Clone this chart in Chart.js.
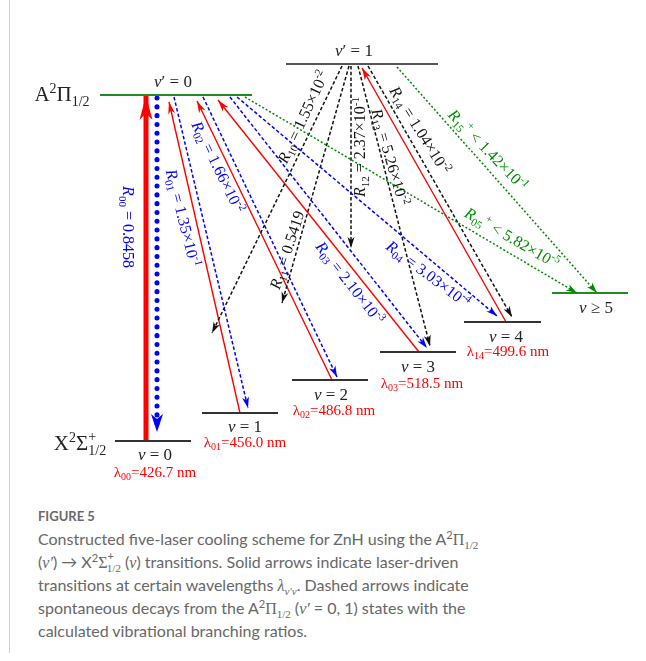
<!DOCTYPE html>
<html>
<head>
<meta charset="utf-8">
<script src="https://cdn.jsdelivr.net/npm/chart.js@4.4.0/dist/chart.umd.min.js"></script>
<style>
html, body { margin: 0; padding: 0; background: #fff; }
#wrap { position: absolute; left: 0; top: 0; width: 646px; height: 495px; }
#edge { position: absolute; left: 9px; top: 0; width: 1px; height: 653px; background: #cfcfcf; }
.cap { position: absolute; left: 38px; top: 505px; width: 600px; font-family: Lato, sans-serif; color: #676767; }
.fig { font-size: 13px; font-weight: 700; height: 22px; line-height: 22px; color: #6a6a6a; }
.txt { font-size: 16px; font-weight: 400; }
.txt div { height: 23px; line-height: 23px; white-space: nowrap; }
.txt sub, .txt sup { font-size: 11px; line-height: 0; }
.m { font-family: "Liberation Serif", serif; font-style: italic; }
.g { font-family: "Liberation Serif", serif; }
</style>
</head>
<body>
<div id="edge"></div>
<div id="wrap"><canvas id="scheme"></canvas></div>
<div class="cap">
  <div class="fig">FIGURE 5</div>
  <div class="txt">
    <div>Constructed five-laser cooling scheme for ZnH using the A<sup>2</sup><span class="g">Π</span><sub class="g">1/2</sub></div>
    <div>(<span class="m">ν′</span>) → X<sup>2</sup><span class="g">Σ</span><sup style="position:relative;top:-2px">+</sup><sub class="g" style="margin-left:-7px">1/2</sub> (<span class="m">ν</span>) transitions. Solid arrows indicate laser-driven</div>
    <div>transitions at certain wavelengths <span class="m">λ</span><sub class="m">ν′ν</sub>. Dashed arrows indicate</div>
    <div>spontaneous decays from the A<sup>2</sup><span class="g">Π</span><sub class="g">1/2</sub> (<span class="m">ν′</span> = 0, 1) states with the</div>
    <div>calculated vibrational branching ratios.</div>
  </div>
</div>
<script>
// energy levels (diagram units: x across, y = height on the page scale)
const levelNames = ["v'=0", "v'=1", "v=0", "v=1", "v=2", "v=3", "v=4", "v>=5"];
const levelFrom = [100, 286, 115, 202, 292, 380, 464, 552];
const levelTo = [252, 438, 191, 278, 368, 456, 541, 628];
const levelEnergy = [95, 64, 441, 413, 380, 352, 322, 293];

// laser driven transitions (lower -> upper)
const laserNames = ["λ00", "λ01", "λ02", "λ03", "λ14"];
const laserX0 = [146, 240, 332, 419, 506];
const laserY0 = [441, 413, 380, 352, 322];
const laserX1 = [146, 169, 197, 218, 362];
const laserY1 = [96, 102, 101, 100, 68];

// spontaneous decays (upper -> lower)
const decayNames = ["R00", "R01", "R02", "R03", "R04", "R05", "R10", "R11", "R12", "R13", "R14", "R15"];
const decayX0 = [157, 174, 203, 230, 237, 245, 342, 349, 351, 358, 368, 397];
const decayY0 = [98, 97, 97, 97, 97, 97, 66, 66, 66, 66, 66, 67];
const decayX1 = [157, 248, 337, 427, 497, 577, 212, 282, 351, 430, 512, 597];
const decayY1 = [432, 408, 377, 348, 316, 293, 333, 303, 248, 346, 317, 293];

const RED = "#ff0000", BLUE = "#0000ff", GREEN = "#008a00", BLK = "#111";

const levelColor = ["#1e8c1e", "#555", "#333", "#333", "#333", "#333", "#333", "#1e8c1e"];
const decayColor = [BLUE, BLUE, BLUE, BLUE, BLUE, GREEN, BLK, BLK, BLK, BLK, BLK, GREEN];

const datasets = [];
levelNames.forEach((n, i) => {
  datasets.push({
    label: n,
    data: [{ x: levelFrom[i], y: levelEnergy[i] }, { x: levelTo[i], y: levelEnergy[i] }],
    borderColor: levelColor[i],
    borderWidth: 2
  });
});
decayNames.forEach((n, i) => {
  const c = decayColor[i];
  const big = i === 0;
  datasets.push({
    label: n,
    data: [{ x: decayX0[i], y: decayY0[i] }, { x: decayX1[i], y: decayY1[i] }],
    borderColor: c,
    borderWidth: big ? 5 : 1.5,
    borderDash: big ? [0.1, 8.7] : (c === GREEN ? [2, 2] : [3.5, 2.2]),
    borderCapStyle: big ? "round" : "butt",
    head: big ? { len: 18, wid: 12 } : { len: 11, wid: 7 }
  });
});
laserNames.forEach((n, i) => {
  const big = i === 0;
  datasets.push({
    label: n,
    data: [{ x: laserX0[i], y: laserY0[i] }, { x: laserX1[i], y: laserY1[i] }],
    borderColor: RED,
    borderWidth: big ? 5 : 1.4,
    head: big ? { len: 24, wid: 13 } : { len: 12, wid: 7 }
  });
});

// text labels: markup *italic*, _{sub}, ^{sup}, #{sup|sub} stacked
const labels = [
  { t: "A^{2}Π_{1/2}", x: 62, y: 94, r: 0, s: 21, c: "#222" },
  { t: "X^{2}Σ#{+|1/2}", x: 80, y: 443, r: 0, s: 21, c: "#222" },
  { t: "*v*′ = 0", x: 173, y: 81, r: 0, s: 17, c: "#222" },
  { t: "*v*′ = 1", x: 354, y: 50, r: 0, s: 17, c: "#222" },
  { t: "*v* = 0", x: 155, y: 454, r: 0, s: 17, c: "#222" },
  { t: "*v* = 1", x: 245, y: 426, r: 0, s: 17, c: "#222" },
  { t: "*v* = 2", x: 331, y: 394, r: 0, s: 17, c: "#222" },
  { t: "*v* = 3", x: 418, y: 366, r: 0, s: 17, c: "#222" },
  { t: "*v* = 4", x: 506, y: 336, r: 0, s: 17, c: "#222" },
  { t: "*v* ≥ 5", x: 596, y: 307, r: 0, s: 17, c: "#222" },
  { t: "λ_{00}=426.7 nm", x: 155, y: 472, r: 0, s: 15, c: RED },
  { t: "λ_{01}=456.0 nm", x: 245, y: 442, r: 0, s: 15, c: RED },
  { t: "λ_{02}=486.8 nm", x: 334, y: 410, r: 0, s: 15, c: RED },
  { t: "λ_{03}=518.5 nm", x: 422, y: 383, r: 0, s: 15, c: RED },
  { t: "λ_{14}=499.6 nm", x: 508, y: 351, r: 0, s: 15, c: RED },
  { t: "*R*_{00} = 0.8458", x: 128, y: 227, r: 90, s: 16, c: BLUE },
  { t: "*R*_{01} = 1.35×10^{-1}", x: 183, y: 218, r: 76, s: 16, c: BLUE },
  { t: "*R*_{02} = 1.66×10^{-2}", x: 218, y: 167, r: 64, s: 16, c: BLUE },
  { t: "*R*_{03} = 2.10×10^{-3}", x: 350, y: 283, r: 52, s: 16, c: BLUE },
  { t: "*R*_{04} = 3.03×10^{-4}", x: 428, y: 274, r: 37, s: 16, c: BLUE },
  { t: "*R*_{05}^{+} < 5.82×10^{-5}", x: 512, y: 238, r: 30, s: 16, c: GREEN },
  { t: "*R*_{15}^{+} < 1.42×10^{-1}", x: 488, y: 150, r: 46, s: 16, c: GREEN },
  { t: "*R*_{10} = 1.55×10^{-2}", x: 303, y: 117, r: -65, s: 16, c: BLK },
  { t: "*R*_{11} = 0.5419", x: 287, y: 250, r: -72, s: 16, c: BLK },
  { t: "*R*_{12} = 2.37×10^{-1}", x: 360, y: 147, r: -90, s: 16, c: BLK },
  { t: "*R*_{13} = 5.26×10^{-2}", x: 390, y: 157, r: 74, s: 16, c: BLK },
  { t: "*R*_{14} = 1.04×10^{-2}", x: 420, y: 130, r: 58, s: 16, c: BLK }
];

function parse(t) {
  const out = [];
  const re = /\*([^*]+)\*|_\{([^}]*)\}|\^\{([^}]*)\}|#\{([^|]*)\|([^}]*)\}|([^*_^#]+)/g;
  let m;
  while ((m = re.exec(t))) {
    if (m[1]) out.push({ k: "i", t: m[1] });
    else if (m[0][0] === "_") out.push({ k: "sub", t: m[2] });
    else if (m[0][0] === "^") out.push({ k: "sup", t: m[3] });
    else if (m[0][0] === "#") out.push({ k: "stack", a: m[4], b: m[5] });
    else out.push({ k: "n", t: m[6] });
  }
  return out;
}

function fontFor(k, s) {
  const fam = '"Liberation Serif", serif';
  if (k === "i") return "italic " + s + "px " + fam;
  if (k === "sub" || k === "sup" || k === "stack") return Math.round(s * 0.68) + "px " + fam;
  return s + "px " + fam;
}

function drawRich(ctx, lb, px, py) {
  const segs = parse(lb.t);
  const s = lb.s;
  let w = 0;
  segs.forEach(g => {
    ctx.font = fontFor(g.k, s);
    g.w = g.k === "stack" ? Math.max(ctx.measureText(g.a).width, ctx.measureText(g.b).width) : ctx.measureText(g.t).width;
    w += g.w;
  });
  ctx.save();
  ctx.translate(px, py);
  ctx.rotate(lb.r * Math.PI / 180);
  ctx.fillStyle = lb.c;
  ctx.textBaseline = "alphabetic";
  let x = -w / 2;
  const base = s * 0.33;
  segs.forEach(g => {
    ctx.font = fontFor(g.k, s);
    if (g.k === "sub") ctx.fillText(g.t, x, base + s * 0.22);
    else if (g.k === "sup") ctx.fillText(g.t, x, base - s * 0.4);
    else if (g.k === "stack") {
      ctx.fillText(g.a, x, base - s * 0.42);
      ctx.fillText(g.b, x, base + s * 0.26);
    } else ctx.fillText(g.t, x, base);
    x += g.w;
  });
  ctx.restore();
}

const arrowHeads = {
  id: "arrowHeads",
  afterDatasetsDraw(chart) {
    const ctx = chart.ctx;
    chart.data.datasets.forEach((ds, i) => {
      if (!ds.head) return;
      const pts = chart.getDatasetMeta(i).data;
      const a = pts[0], b = pts[1];
      const dx = b.x - a.x, dy = b.y - a.y;
      const L = Math.hypot(dx, dy);
      const ux = dx / L, uy = dy / L;
      const len = ds.head.len, wid = ds.head.wid;
      ctx.save();
      ctx.fillStyle = ds.borderColor;
      ctx.beginPath();
      ctx.moveTo(b.x, b.y);
      ctx.lineTo(b.x - ux * len - uy * wid / 2, b.y - uy * len + ux * wid / 2);
      ctx.lineTo(b.x - ux * len * 0.72, b.y - uy * len * 0.72);
      ctx.lineTo(b.x - ux * len + uy * wid / 2, b.y - uy * len - ux * wid / 2);
      ctx.closePath();
      ctx.fill();
      ctx.restore();
    });
  }
};

const textLabels = {
  id: "textLabels",
  afterDraw(chart) {
    const xs = chart.scales.x, ys = chart.scales.y;
    labels.forEach(lb => drawRich(chart.ctx, lb, xs.getPixelForValue(lb.x), ys.getPixelForValue(lb.y)));
  }
};

new Chart(document.getElementById("scheme"), {
  type: "scatter",
  data: { datasets: datasets },
  options: {
    responsive: true,
    maintainAspectRatio: false,
    animation: false,
    events: [],
    showLine: true,
    layout: { padding: 0 },
    elements: { point: { radius: 0 }, line: { tension: 0 } },
    plugins: { legend: { display: false }, tooltip: { enabled: false } },
    scales: {
      x: { type: "linear", min: 0, max: 646, display: false },
      y: { type: "linear", min: 0, max: 495, reverse: true, display: false }
    }
  },
  plugins: [arrowHeads, textLabels]
});
</script>
</body>
</html>
